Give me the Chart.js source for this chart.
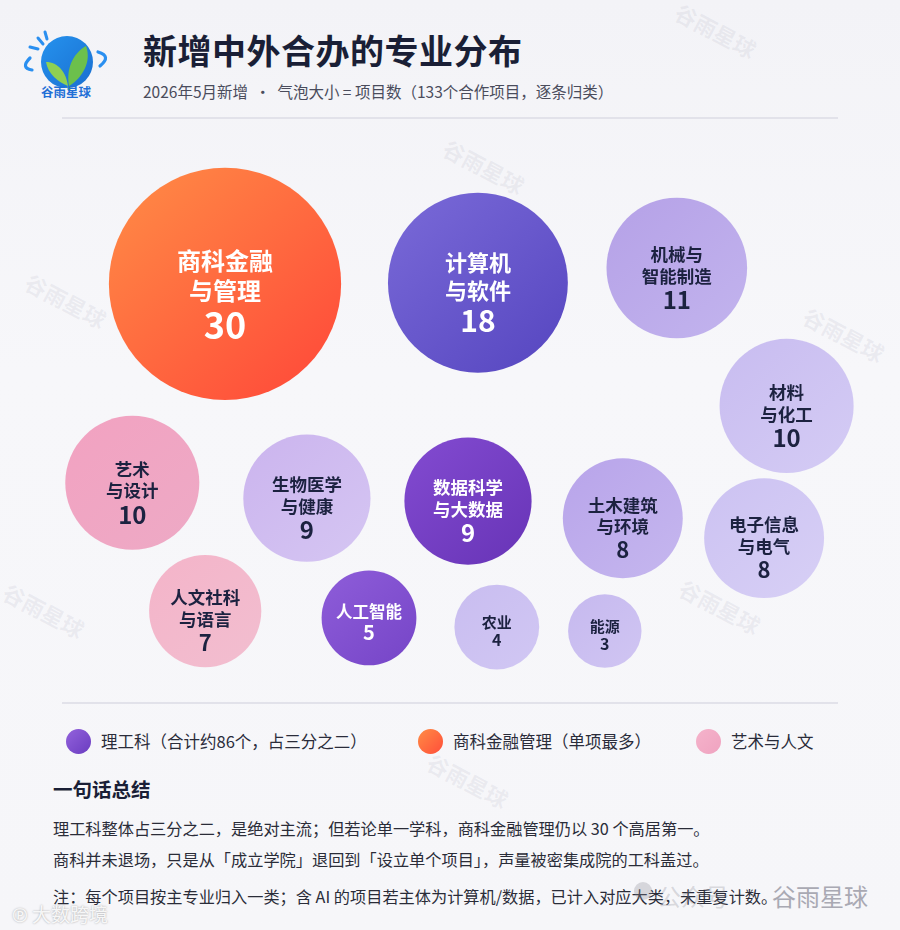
<!DOCTYPE html>
<html lang="zh-CN">
<head>
<meta charset="utf-8">
<title>新增中外合办的专业分布</title>
<script src="https://cdn.jsdelivr.net/npm/chart.js@4.4.1/dist/chart.umd.min.js"></script>
<style>
  html, body { margin: 0; padding: 0; }
  body {
    width: 900px; height: 930px; position: relative; overflow: hidden;
    background: linear-gradient(180deg, #f3f3f7 0%, #f7f7fa 40%, #f6f6f9 100%);
    font-family: "Noto Sans CJK SC", "Noto Sans", sans-serif;
    color: #1c2138;
  }
  .abs { position: absolute; }
  .title { left: 143px; top: 25px; font-size: 34px; font-weight: 700; letter-spacing: 0.5px; color: #1a1f36; }
  .sub { left: 143px; top: 80px; font-size: 15.5px; color: #4a4c5c; }
  .rule { left: 62px; width: 776px; height: 1.5px; background: #e2e2ea; }
  .wm { font-size: 22px; font-weight: 700; color: rgba(150,150,170,0.13); transform: rotate(28deg); white-space: nowrap; }
  #chartBox { left: 0; top: 130px; width: 900px; height: 570px; }
  .legend { top: 728px; height: 26px; display: flex; align-items: center; font-size: 16.5px; color: #2a2c3a; white-space: nowrap; }
  .dot { width: 25px; height: 25px; border-radius: 50%; margin-right: 10px; }
  .h2 { left: 53px; top: 774px; font-size: 19.5px; font-weight: 700; color: #1a1f36; }
  .p { left: 53px; font-size: 16.2px; color: #2a2c38; white-space: nowrap; }
</style>
</head>
<body>
<script>
// bubble values (项目数) and labels
const categories = [
  ['商科金融', '与管理'],
  ['计算机', '与软件'],
  ['机械与', '智能制造'],
  ['材料', '与化工'],
  ['艺术', '与设计'],
  ['生物医学', '与健康'],
  ['数据科学', '与大数据'],
  ['人文社科', '与语言'],
  ['人工智能'],
  ['农业'],
  ['能源'],
  ['土木建筑', '与环境'],
  ['电子信息', '与电气']
];
const projects = [30, 18, 11, 10, 10, 9, 9, 7, 5, 4, 3, 8, 8];
// packed layout position of each bubble, in percent of the plot area
const layoutX = [25.0, 53.1, 75.2, 87.4, 14.7, 34.1, 52.0, 22.8, 41.0, 55.2, 67.2, 69.2, 84.9];
const layoutY = [27.0, 26.8, 24.2, 48.4, 61.9, 64.6, 65.1, 84.4, 85.6, 87.2, 87.9, 68.1, 71.6];
const legendItems = ['理工科（合计约86个，占三分之二）', '商科金融管理（单项最多）', '艺术与人文'];
</script>

<!-- logo -->
<svg class="abs" style="left:18px;top:24px" width="100" height="84" viewBox="0 0 100 84">
  <defs>
    <linearGradient id="lg" x1="0" y1="0" x2="1" y2="1">
      <stop offset="0" stop-color="#2592ee"/>
      <stop offset="1" stop-color="#1a6fd0"/>
    </linearGradient>
  </defs>
  <path d="M12 34 Q2 44 14 46" stroke="#2a8ff0" stroke-width="3.2" fill="none" stroke-linecap="round"/>
  <path d="M80 28 Q94 32 82 42" stroke="#2a8ff0" stroke-width="3.2" fill="none" stroke-linecap="round"/>
  <line x1="20" y1="14" x2="25" y2="20" stroke="#2a8ff0" stroke-width="3" stroke-linecap="round"/>
  <line x1="12" y1="23" x2="20" y2="25" stroke="#2a8ff0" stroke-width="3" stroke-linecap="round"/>
  <line x1="27" y1="8" x2="29" y2="15" stroke="#2a8ff0" stroke-width="3" stroke-linecap="round"/>
  <circle cx="49" cy="38" r="26" fill="url(#lg)"/>
  <path d="M50 62 C40 58 30 50 28 38 C40 38 48 48 50 62 Z" fill="#8fd052"/>
  <path d="M51 62 C48 46 54 30 68 22 C74 38 64 54 51 62 Z" fill="#6cc04c"/>
  <path d="M51 62 L51 66" stroke="#6cc04c" stroke-width="3"/>
  <text x="48" y="73" text-anchor="middle" font-size="12.5" font-weight="700" fill="#1f6fd6" font-family="Noto Sans CJK SC">谷雨星球</text>
</svg>

<div class="abs title">新增中外合办的专业分布</div>
<div class="abs sub">2026年5月新增 &nbsp;•&nbsp; 气泡大小 = 项目数（133个合作项目，逐条归类）</div>
<div class="abs rule" style="top:117px"></div>

<div class="abs wm" style="left:672px;top:14px">谷雨星球</div>
<div class="abs wm" style="left:440px;top:150px">谷雨星球</div>
<div class="abs wm" style="left:22px;top:284px">谷雨星球</div>
<div class="abs wm" style="left:800px;top:318px">谷雨星球</div>
<div class="abs wm" style="left:0px;top:594px">谷雨星球</div>
<div class="abs wm" style="left:676px;top:590px">谷雨星球</div>
<div class="abs wm" style="left:424px;top:764px">谷雨星球</div>

<div id="chartBox" class="abs"><canvas id="chart"></canvas></div>

<div class="abs rule" style="top:702px"></div>

<div class="abs legend" style="left:66px"><div class="dot" style="background:linear-gradient(135deg,#9362dc,#6a3cc0)"></div><span id="lg0"></span></div>
<div class="abs legend" style="left:418px"><div class="dot" style="background:linear-gradient(135deg,#ff8c45,#ff4e3a)"></div><span id="lg1"></span></div>
<div class="abs legend" style="left:696px"><div class="dot" style="background:linear-gradient(135deg,#f5b3cb,#efa3c0)"></div><span id="lg2"></span></div>

<div class="abs h2">一句话总结</div>
<div class="abs p" style="top:816px">理工科整体占三分之二，是绝对主流；但若论单一学科，商科金融管理仍以 30 个高居第一。</div>
<div class="abs p" style="top:847px">商科并未退场，只是从「成立学院」退回到「设立单个项目」，声量被密集成院的工科盖过。</div>
<div class="abs p" style="top:884px">注：每个项目按主专业归入一类；含 AI 的项目若主体为计算机/数据，已计入对应大类，未重复计数。</div>

<div class="abs" style="left:634px;top:882px;width:18px;height:18px;border-radius:50%;background:rgba(140,140,150,0.3)"></div>
<div class="abs" style="left:657px;top:878px;font-size:24px;color:rgba(140,140,150,0.3);white-space:nowrap">公众号</div>
<div class="abs" style="left:772px;top:878px;font-size:24px;color:#a9a9b3;white-space:nowrap">谷雨星球</div>
<div class="abs" style="left:12px;top:900px;font-size:19px;color:rgba(255,255,255,0.9);text-shadow:0 0 2px rgba(0,0,0,0.35);white-space:nowrap">℗ 大数跨境</div>

<script>
legendItems.forEach((t, i) => { document.getElementById('lg' + i).textContent = t; });

// colours: gradient start / end and text colour per bubble
const fillFrom = ['#ff8d46', '#7a6ad8', '#b5a1e7', '#c8bcf0', '#f2a2c1', '#cbb4ee', '#834bd1',
                  '#f4b4c9', '#8e5dd9', '#c9bdf0', '#c6b9ef', '#b8a4ea', '#ccc2f2'];
const fillTo   = ['#ff4d3a', '#5949c2', '#c1b2ed', '#d3caf4', '#eea9c5', '#d4c4f2', '#6a36b9',
                  '#f2bdcf', '#7847c9', '#d0c6f3', '#cfc4f2', '#c4b5ee', '#d6cef5'];
const darkBubble = [true, true, false, false, false, false, true, false, true, false, false, false, false];

const R_PER_SQRT = 21.2;

const bubbleData = projects.map((v, i) => ({ x: layoutX[i], y: layoutY[i], r: R_PER_SQRT * Math.sqrt(v) }));

// swap flat fills for diagonal gradients once element positions are known
const bubbleGradients = {
  id: 'bubbleGradients',
  beforeDatasetsDraw(chart) {
    const ctx = chart.ctx;
    chart.getDatasetMeta(0).data.forEach((el, i) => {
      const r = el.options.radius;
      if (!Number.isFinite(el.x) || !Number.isFinite(el.y)) return;
      const g = ctx.createLinearGradient(el.x - r, el.y - r, el.x + r * 0.7, el.y + r * 0.9);
      g.addColorStop(0, fillFrom[i]);
      g.addColorStop(1, fillTo[i]);
      el.options = Object.assign({}, el.options, { backgroundColor: g });
    });
  }
};

const bubbleLabels = {
  id: 'bubbleLabels',
  afterDatasetsDraw(chart) {
    const ctx = chart.ctx;
    const meta = chart.getDatasetMeta(0);
    meta.data.forEach((el, i) => {
      const r = el.options.radius;
      const lines = categories[i];
      const ls = r >= 110 ? 24 : r >= 85 ? 22 : r >= 55 ? 17.5 : r >= 45 ? 16.5 : 15;
      const ns = r >= 110 ? 36 : r >= 85 ? 30 : r >= 62 ? 24 : r >= 55 ? 22 : r >= 45 ? 20 : 16;
      const gap = ls * 1.25;
      const numGap = (ls + ns) / 2 * 1.15;
      const span = gap * (lines.length - 1) + numGap;
      let y = el.y + (lines.length > 1 ? 9 : 4) - span / 2;
      ctx.save();
      ctx.textAlign = 'center';
      ctx.textBaseline = 'middle';
      ctx.fillStyle = darkBubble[i] ? '#ffffff' : '#1c2240';
      ctx.font = '700 ' + ls + 'px "Noto Sans CJK SC", "Noto Sans", sans-serif';
      lines.forEach(t => { ctx.fillText(t, el.x, y); y += gap; });
      y += numGap - gap;
      ctx.font = '700 ' + ns + 'px "Noto Sans CJK SC", "Noto Sans", sans-serif';
      ctx.fillText(String(projects[i]), el.x, y);
      ctx.restore();
    });
  }
};

new Chart(document.getElementById('chart'), {
  type: 'bubble',
  data: {
    datasets: [{
      label: '项目数',
      data: bubbleData,
      backgroundColor: fillTo,
      borderWidth: 0,
      hoverRadius: 0,
      clip: false
    }]
  },
  options: {
    responsive: true,
    maintainAspectRatio: false,
    animation: false,
    events: [],
    layout: { padding: 0, autoPadding: false },
    scales: {
      x: { type: 'linear', min: 0, max: 100, display: false },
      y: { type: 'linear', min: 0, max: 100, reverse: true, display: false }
    },
    plugins: {
      legend: { display: false },
      tooltip: { enabled: false }
    }
  },
  plugins: [bubbleGradients, bubbleLabels]
});
</script>
</body>
</html>
